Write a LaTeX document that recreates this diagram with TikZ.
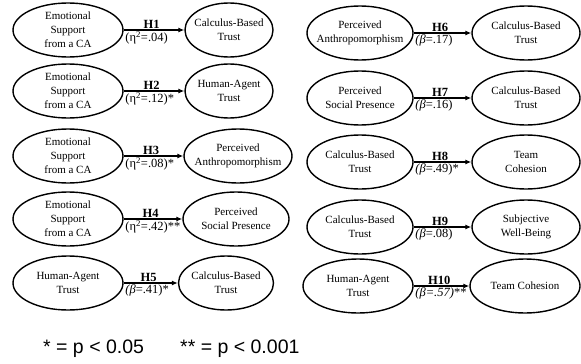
\documentclass[tikz,border=0pt]{standalone}
\usepackage{fontspec}
\setmainfont{Liberation Serif}
\newfontfamily\arialfont{Liberation Sans}
\usetikzlibrary{shapes.geometric,arrows.meta}

\tikzset{
  var/.style={ellipse, draw, line width=1.4pt, minimum width=#1, minimum height=54, inner sep=0pt},
  var/.default=108,
  vt/.style={align=center, inner sep=0pt, font=\fontsize{11}{14}\selectfont},
  arr/.style={-{Latex[length=6pt,width=5pt]}, line width=1.4pt},
  hl/.style={above, pos=0.46, inner sep=1pt, font=\fontsize{12.5}{12.5}\selectfont\bfseries},
  pl/.style={anchor=north west, pos=0, inner sep=1pt, font=\fontsize{12.5}{12.5}\selectfont},
  foot/.style={anchor=west, inner sep=0pt, font=\arialfont\fontsize{19.5}{20}\selectfont},
}

\begin{document}
\begin{tikzpicture}[x=1pt, y=-1pt]
        \useasboundingbox (0,0) rectangle (581,364);

        % left column
        \node[var=110, label={[vt]center:Emotional\\Support\\from a CA}] (es1) at (68,30) {};
        \node[var=88, label={[vt]center:Calculus-Based\\Trust}] (cbt1) at (229,30) {};
        \node[var=110, label={[vt]center:Emotional\\Support\\from a CA}] (es2) at (68,91) {};
        \node[var=88, label={[vt]center:Human-Agent\\Trust}] (hat2) at (229,91) {};
        \node[var=110, label={[vt]center:Emotional\\Support\\from a CA}] (es3) at (68,156) {};
        \node[var=108, label={[vt]center:Perceived\\Anthropomorphism}] (pa3) at (238,156) {};
        \node[var=110, label={[vt]center:Emotional\\Support\\from a CA}] (es4) at (68,219) {};
        \node[var=106, label={[vt]center:Perceived\\Social Presence}] (psp4) at (236,219) {};
        \node[var=110, label={[vt]center:Human-Agent\\Trust}] (hat5) at (68,283) {};
        \node[var=95, label={[vt]center:Calculus-Based\\Trust}] (cbt5) at (226,283) {};

        % right column
        \node[var=106, label={[vt]center:Perceived\\Anthropomorphism}] (pa6) at (360,33) {};
        \node[var, label={[vt]center:Calculus-Based\\Trust}] (cbt6) at (526,33) {};
        \node[var=106, label={[vt]center:Perceived\\Social Presence}] (psp7) at (360,98) {};
        \node[var, label={[vt]center:Calculus-Based\\Trust}] (cbt7) at (526,98) {};
        \node[var=106, label={[vt]center:Calculus-Based\\Trust}] (cbt8) at (360,162) {};
        \node[var, label={[vt]center:Team\\Cohesion}] (tc8) at (526,162) {};
        \node[var=106, label={[vt]center:Calculus-Based\\Trust}] (cbt9) at (360,227) {};
        \node[var, label={[vt]center:Subjective\\Well-Being}] (swb9) at (526,227) {};
        \node[var=110, label={[vt]center:Human-Agent\\Trust}] (hat10) at (358,286) {};
        \node[var=110, label={[vt]center:Team Cohesion}] (tc10) at (525,286) {};

        \draw[arr] (es1) -- node[hl]{H1} node[pl]{(η\textsuperscript{2}=.04)} (cbt1);
        \draw[arr] (es2) -- node[hl]{H2} node[pl]{(η\textsuperscript{2}=.12)*} (hat2);
        \draw[arr] (es3) -- node[hl]{H3} node[pl]{(η\textsuperscript{2}=.08)*} (pa3);
        \draw[arr] (es4) -- node[hl]{H4} node[pl]{(η\textsuperscript{2}=.42)**} (psp4);
        \draw[arr] (hat5) -- node[hl]{H5} node[pl]{\textit{(β}=.41)*} (cbt5);
        \draw[arr] (pa6) -- node[hl]{H6} node[pl]{\textit{(β}=.17)} (cbt6);
        \draw[arr] (psp7) -- node[hl]{H7} node[pl]{\textit{(β}=.16)} (cbt7);
        \draw[arr] (cbt8) -- node[hl]{H8} node[pl]{\textit{(β}=.49)*} (tc8);
        \draw[arr] (cbt9) -- node[hl]{H9} node[pl]{\textit{(β}=.08)} (swb9);
        \draw[arr] (hat10) -- node[hl]{H10} node[pl]{\textit{(β=.57)}**} (tc10);

        \node[foot] (p05) at (43,349) {* = p < 0.05};
        \node[foot] (p001) at (180,349) {** = p < 0.001};
\end{tikzpicture}
\end{document}
